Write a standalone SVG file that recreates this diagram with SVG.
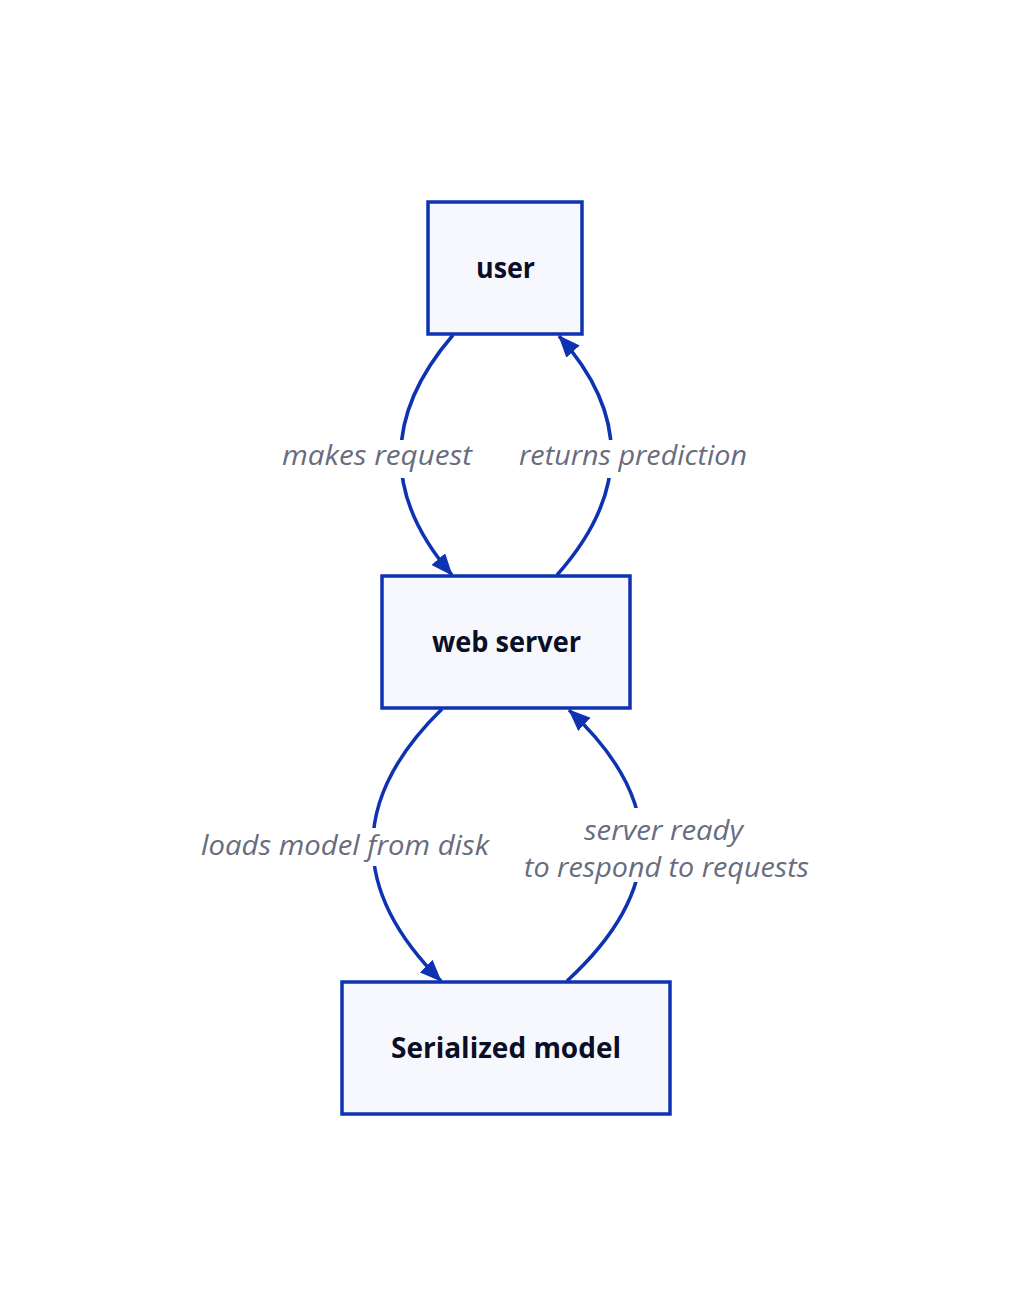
<svg xmlns="http://www.w3.org/2000/svg" width="1014" height="1316" viewBox="0 0 1014 1316">
<defs>
<style>
.node rect{fill:#F7F8FE;stroke:#0D32B2;stroke-width:3.5}
.node text{font-family:"Open Sans","Liberation Sans",sans-serif;font-weight:bold;font-size:28px;fill:#0A0F25;text-anchor:middle}
.edge path{fill:none;stroke:#0D32B2;stroke-width:3.5}
.lbl rect{fill:#FFFFFF}
.lbl text{font-family:"Open Sans","Liberation Sans",sans-serif;font-style:italic;font-size:28px;fill:#676C7E;text-anchor:middle}
</style>
<marker id="arr" viewBox="0 0 22 18" refX="21" refY="9" markerWidth="22" markerHeight="18" markerUnits="userSpaceOnUse" orient="auto">
<path d="M0 0 L22 9 L0 18 Z" fill="#0D32B2"/>
</marker>
</defs>
<rect width="1014" height="1316" fill="#FFFFFF"/>
<g id="connectors">
<g class="edge" id="e-makes-request"><path d="M453 335 C385 414 382 494 452 575" marker-end="url(#arr)"/></g>
<g class="edge" id="e-returns-prediction"><path d="M557 575 C628 495 630 415 559 336" marker-end="url(#arr)"/></g>
<g class="edge" id="e-loads-model"><path d="M442 709 C350 799 350 890 441 981" marker-end="url(#arr)"/></g>
<g class="edge" id="e-server-ready"><path d="M567 981 C665 891 667 801 569 710" marker-end="url(#arr)"/></g>
<g class="lbl">
<rect x="280" y="440" width="194" height="38"/>
<text x="377" y="465" textLength="190" lengthAdjust="spacingAndGlyphs">makes request</text>
<rect x="517" y="440" width="232" height="38"/>
<text x="633" y="465" textLength="228" lengthAdjust="spacingAndGlyphs">returns prediction</text>
<rect x="199" y="828" width="292" height="38"/>
<text x="345" y="855" textLength="288" lengthAdjust="spacingAndGlyphs">loads model from disk</text>
<rect x="522" y="808" width="289" height="74"/>
<text x="663.5" y="840" textLength="159" lengthAdjust="spacingAndGlyphs">server ready</text>
<text x="666.5" y="877" textLength="285" lengthAdjust="spacingAndGlyphs">to respond to requests</text>
</g>
</g>
<g class="node" id="user">
<rect x="428" y="202" width="154" height="132"/>
<text x="505.5" y="278" textLength="59" lengthAdjust="spacingAndGlyphs">user</text>
</g>
<g class="node" id="web-server">
<rect x="382" y="576" width="248" height="132"/>
<text x="506.5" y="652" textLength="149" lengthAdjust="spacingAndGlyphs">web server</text>
</g>
<g class="node" id="serialized-model">
<rect x="342" y="982" width="328" height="132"/>
<text x="506" y="1058" textLength="230" lengthAdjust="spacingAndGlyphs">Serialized model</text>
</g>
</svg>
